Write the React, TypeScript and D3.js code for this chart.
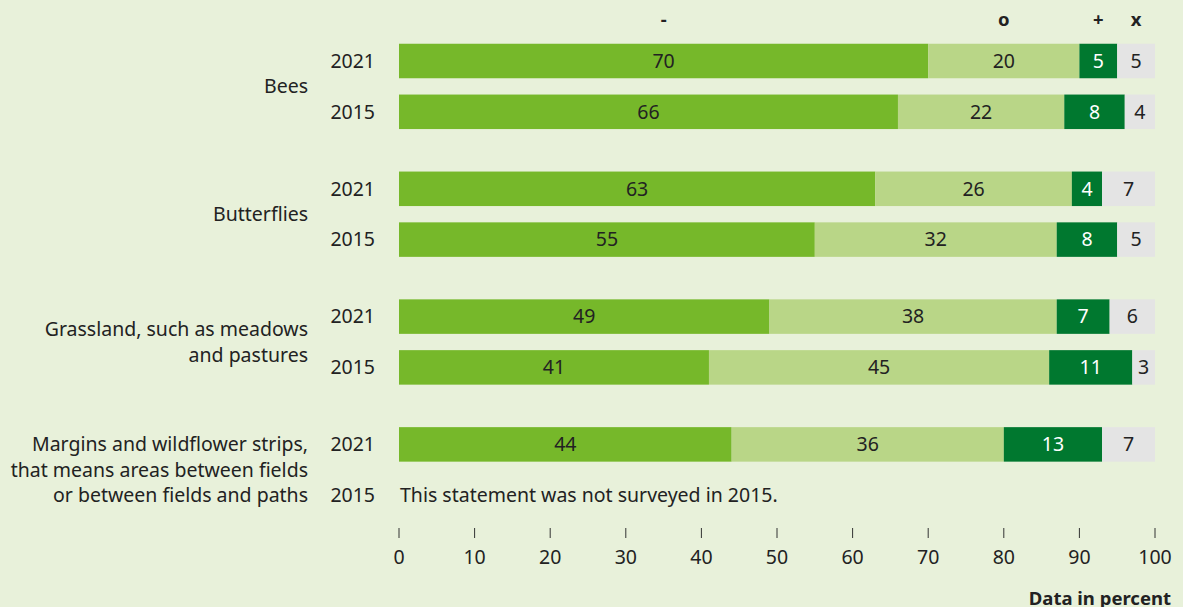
import React from "react";
import * as d3 from "d3";

const categories = ["Bees", "Butterflies", "Grassland, such as meadows\nand pastures", "Margins and wildflower strips,\nthat means areas between fields\nor between fields and paths"];
const years = ["2021", "2015"];
const seriesKeys = ["-", "o", "+", "x"];
// values[category][year] = [-, o, +, x] or null
const beesValues = [[70, 20, 5, 5], [66, 22, 8, 4]];
const butterfliesValues = [[63, 26, 4, 7], [55, 32, 8, 5]];
const grasslandValues = [[49, 38, 7, 6], [41, 45, 11, 3]];
const marginsValues = [[44, 36, 13, 7], null];
const allValues = [beesValues, butterfliesValues, grasslandValues, marginsValues];
const ticks = [0, 10, 20, 30, 40, 50, 60, 70, 80, 90, 100];
const notSurveyed = "This statement was not surveyed in 2015.";

const colors = ["#76b82a", "#b9d687", "#00782f", "#e4e4e4"];
const textColors = ["#222", "#222", "#fff", "#222"];
const FONT = "'Noto Sans', sans-serif";
const FS = 19.5;

export default function App() {
  const W = 1183, H = 607;
  const x = d3.scaleLinear().domain([0, 100]).range([399, 1155]);
  const rowCenter = (g: number, r: number) => 61 + g * 127.8 + r * 50.8;
  const barH = 34.5;

  return (
    <svg width={W} height={H} style={{ position: "absolute", left: 0, top: 0 }} fontFamily={FONT}>
      <rect x={0} y={0} width={W} height={H} fill="#e8f1da" />
      {seriesKeys.map((k, i) => {
        const v = beesValues[0];
        const start = d3.sum(v.slice(0, i));
        return (
          <text key={k} x={x(start + v[i] / 2)} y={20} dy="0.35em" textAnchor="middle" fontSize={18.5} fontWeight="bold" fill="#222">{k}</text>
        );
      })}
      {categories.map((cat, g) => {
        const lines = cat.split("\n");
        const mid = (rowCenter(g, 0) + rowCenter(g, 1)) / 2;
        const lh = 25.5;
        return (
          <g key={g}>
            {lines.map((ln, li) => (
              <text key={li} x={308} y={mid + (li - (lines.length - 1) / 2) * lh} dy="0.35em" textAnchor="end" fontSize={FS} fill="#222">{ln}</text>
            ))}
            {years.map((yr, r) => {
              const cy = rowCenter(g, r);
              const vals = allValues[g][r];
              return (
                <g key={yr}>
                  <text x={375} y={cy} dy="0.35em" textAnchor="end" fontSize={FS} fill="#222">{yr}</text>
                  {vals ? (
                    vals.map((v, i) => {
                      const start = d3.sum(vals.slice(0, i));
                      return (
                        <g key={i}>
                          <rect x={x(start)} y={cy - barH / 2} width={x(start + v) - x(start)} height={barH} fill={colors[i]} />
                          <text x={x(start + v / 2)} y={cy} dy="0.35em" textAnchor="middle" fontSize={FS} fill={textColors[i]}>{v}</text>
                        </g>
                      );
                    })
                  ) : (
                    <text x={400} y={cy} dy="0.35em" fontSize={FS} fill="#222">{notSurveyed}</text>
                  )}
                </g>
              );
            })}
          </g>
        );
      })}
      {ticks.map((t) => (
        <g key={t}>
          <line x1={x(t)} x2={x(t)} y1={528} y2={538} stroke="#333" strokeWidth={1} />
          <text x={x(t)} y={557.5} dy="0.35em" textAnchor="middle" fontSize={FS} fill="#222">{t}</text>
        </g>
      ))}
      <text x={1171} y={605} textAnchor="end" fontSize={18.5} fontWeight="bold" fill="#222">Data in percent</text>
    </svg>
  );
}
